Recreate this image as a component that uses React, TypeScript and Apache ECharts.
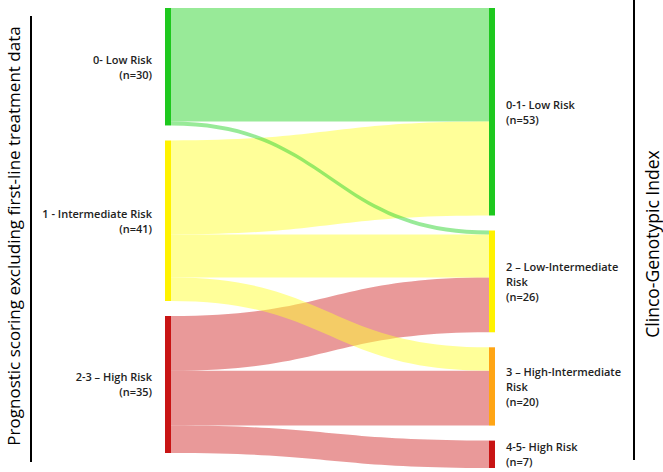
import React, { useEffect, useRef } from "react";
import * as echarts from "echarts";

const leftNames = ["0- Low Risk", "1 - Intermediate Risk", "2-3 – High Risk"];
const leftCounts = [30, 41, 35];
const leftColors = ["#1ec81e", "#fff200", "#c81414"];
const leftLinkColors = ["rgb(49,213,49)", "rgb(255,255,51)", "rgb(211,51,51)"];

const rightNames = ["0-1- Low Risk", "2 – Low-Intermediate\nRisk", "3 – High-Intermediate\nRisk", "4-5- High Risk"];
const rightCounts = [53, 26, 20, 7];
const rightColors = ["#1ec81e", "#fff200", "#ffa514", "#c81414"];

// [left index, right index, patients] — listed in drawing order
const flows: [number, number, number][] = [
  [2, 1, 14],
  [2, 2, 14],
  [2, 3, 7],
  [0, 0, 29],
  [1, 0, 24],
  [1, 1, 11],
  [1, 2, 6],
  [0, 1, 1],
];

const leftTitle = "Prognostic scoring excluding first-line treatment data";
const rightTitle = "Clinco-Genotypic Index";

export default function App() {
  const ref = useRef<HTMLDivElement>(null);
  useEffect(() => {
    if (!ref.current) return;
    const chart = echarts.init(ref.current, undefined, { renderer: "svg" });
    const labelBase = {
      fontFamily: "Open Sans",
      fontSize: 11,
      fontWeight: 600,
      color: "#222",
      lineHeight: 15,
    };
    const nodes = [
      ...leftNames.map((n, i) => ({
        name: "L" + i,
        itemStyle: { color: leftColors[i], borderWidth: 0 },
        label: {
          ...labelBase,
          position: "left",
          distance: 13,
          align: "right",
          formatter: n + "\n(n=" + leftCounts[i] + ")",
        },
      })),
      ...rightNames.map((n, i) => ({
        name: "R" + i,
        itemStyle: { color: rightColors[i], borderWidth: 0 },
        label: {
          ...labelBase,
          position: "right",
          distance: 11,
          align: "left",
          formatter: n + "\n(n=" + rightCounts[i] + ")",
        },
      })),
    ];
    const links = flows.map(([s, t, v]) => ({
      source: "L" + s,
      target: "R" + t,
      value: v,
      lineStyle: { color: leftLinkColors[s], opacity: 0.5 },
    }));
    chart.setOption({
      animation: false,
      series: [
        {
          type: "sankey",
          left: 165,
          right: 168,
          top: 8,
          bottom: 4,
          nodeWidth: 6,
          nodeGap: 15,
          layoutIterations: 0,
          draggable: false,
          emphasis: { disabled: true },
          lineStyle: { curveness: 0.5 },
          data: nodes,
          links,
        },
      ],
      graphic: [
        {
          type: "line",
          shape: { x1: 31, y1: 16, x2: 31, y2: 462 },
          style: { stroke: "#000", lineWidth: 2 },
        },
        {
          type: "line",
          shape: { x1: 634, y1: 0, x2: 634, y2: 460 },
          style: { stroke: "#000", lineWidth: 2 },
        },
        {
          type: "text",
          x: 13,
          y: 236,
          rotation: Math.PI / 2,
          style: {
            text: leftTitle,
            fontFamily: "Open Sans",
            fontSize: 17,
            fill: "#000",
            align: "center",
            verticalAlign: "middle",
          },
        },
        {
          type: "text",
          x: 652,
          y: 244,
          rotation: Math.PI / 2,
          style: {
            text: rightTitle,
            fontFamily: "Open Sans",
            fontSize: 17.5,
            fill: "#000",
            align: "center",
            verticalAlign: "middle",
          },
        },
      ],
    });
    return () => chart.dispose();
  }, []);
  return (
    <div
      ref={ref}
      style={{ position: "fixed", left: 0, top: 0, width: 663, height: 472, background: "#fff" }}
    />
  );
}
